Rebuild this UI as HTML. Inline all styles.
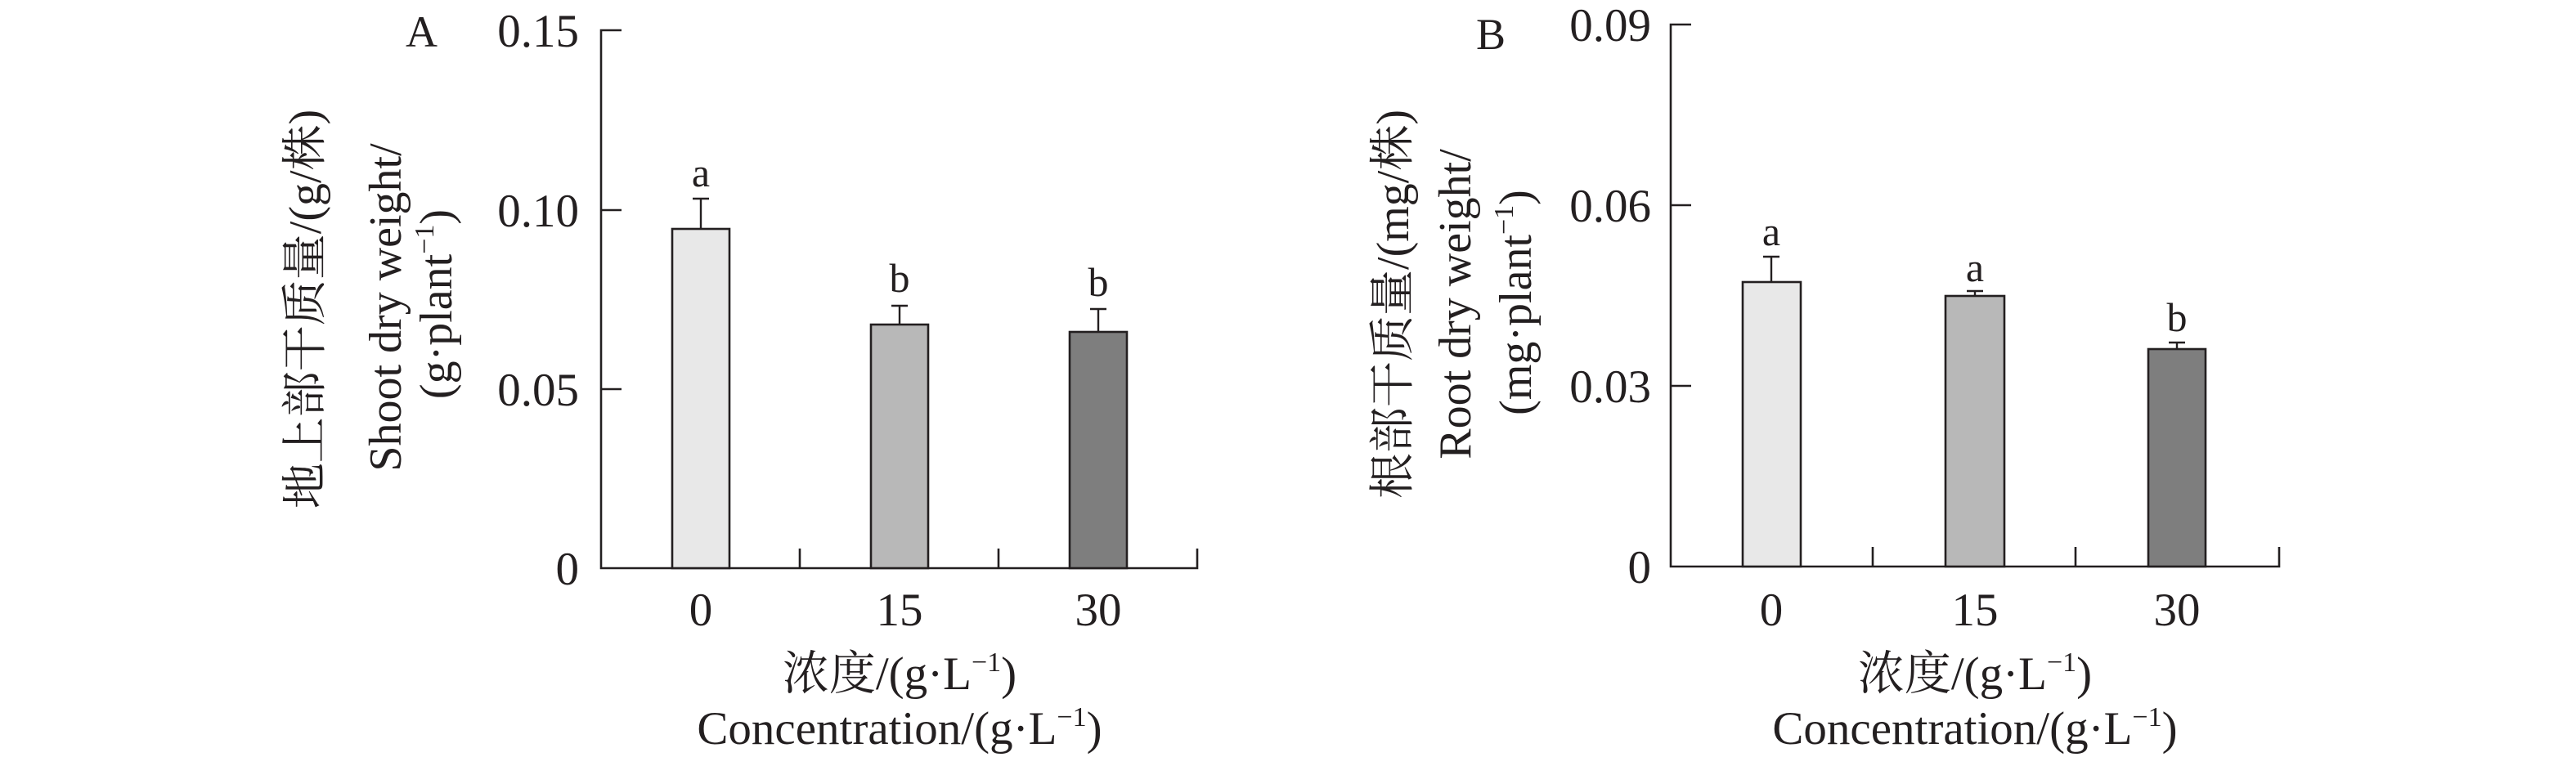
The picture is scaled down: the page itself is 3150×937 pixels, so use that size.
<!DOCTYPE html>
<html><head><meta charset="utf-8"><style>
html,body{margin:0;padding:0;background:#fff}
svg{display:block}
text{font-family:"Liberation Serif","Noto Serif CJK SC","Noto Sans CJK SC",serif;fill:#231f20}
</style></head><body>
<svg width="3150" height="937" viewBox="0 0 3150 937" xmlns="http://www.w3.org/2000/svg">
<g stroke="#231f20" stroke-width="2.6" fill="none">
<path d="M760 37 H735 V695 H1464 V671"/>
<path d="M735 257 H760 M735 476 H760 M978 695 V671 M1221 695 V671"/>
<path d="M2068 30 H2043 V693 H2787 V669"/>
<path d="M2043 251 H2068 M2043 472 H2068 M2290 693 V669 M2538 693 V669"/>
</g>
<g stroke="#231f20" stroke-width="2.6">
<rect x="822" y="280" width="70" height="415" fill="#e8e8e8"/>
<rect x="1065" y="397" width="70" height="298" fill="#b8b8b8"/>
<rect x="1308" y="406" width="70" height="289" fill="#7e7e7e"/>
<rect x="2131" y="345" width="71" height="348" fill="#e8e8e8"/>
<rect x="2379" y="362" width="72" height="331" fill="#b8b8b8"/>
<rect x="2627" y="427" width="70" height="266" fill="#7e7e7e"/>
</g>
<g stroke="#231f20" stroke-width="2.4" fill="none">
<path d="M857 280 V243 M847 243 H867"/>
<path d="M1100 397 V374 M1090 374 H1110"/>
<path d="M1343 406 V378 M1333 378 H1353"/>
<path d="M2166 345 V314 M2156 314 H2176"/>
<path d="M2415 362 V356 M2405 356 H2425"/>
<path d="M2662 427 V419 M2652 419 H2672"/>
</g>
<g font-size="50" text-anchor="middle">
<text x="857" y="228">a</text>
<text x="1100" y="357">b</text>
<text x="1343" y="362">b</text>
<text x="2166" y="300">a</text>
<text x="2415" y="344">a</text>
<text x="2662" y="405">b</text>
</g>
<g font-size="57" text-anchor="end">
<text x="708" y="57">0.15</text>
<text x="708" y="277">0.10</text>
<text x="708" y="496">0.05</text>
<text x="708" y="715">0</text>
<text x="2019" y="50">0.09</text>
<text x="2019" y="271">0.06</text>
<text x="2019" y="492">0.03</text>
<text x="2019" y="713">0</text>
</g>
<g font-size="54">
<text x="496" y="57">A</text>
<text x="1805" y="60">B</text>
</g>
<g font-size="57" text-anchor="middle">
<text x="857" y="765">0</text><text x="1100" y="765">15</text><text x="1343" y="765">30</text>
<text x="2166" y="765">0</text><text x="2415" y="765">15</text><text x="2662" y="765">30</text>
<text x="1100" y="843">浓度/(g·L<tspan font-size="34" dy="-22">−1</tspan><tspan dy="22">)</tspan></text>
<text x="1100" y="910">Concentration/(g·L<tspan font-size="34" dy="-22">−1</tspan><tspan dy="22">)</tspan></text>
<text x="2415" y="843">浓度/(g·L<tspan font-size="34" dy="-22">−1</tspan><tspan dy="22">)</tspan></text>
<text x="2415" y="910">Concentration/(g·L<tspan font-size="34" dy="-22">−1</tspan><tspan dy="22">)</tspan></text>
</g>
<g font-size="56" text-anchor="middle">
<text transform="translate(392,378) rotate(-90)">地上部干质量/(g/株)</text>
<text transform="translate(490,376) rotate(-90)">Shoot dry weight/</text>
<text transform="translate(552,372) rotate(-90)">(g·plant<tspan font-size="34" dy="-22">−1</tspan><tspan dy="22">)</tspan></text>
<text transform="translate(1722,372) rotate(-90)">根部干质量/(mg/株)</text>
<text transform="translate(1798,372) rotate(-90)">Root dry weight/</text>
<text transform="translate(1872,370) rotate(-90)">(mg·plant<tspan font-size="34" dy="-22">−1</tspan><tspan dy="22">)</tspan></text>
</g>
</svg>
</body></html>
